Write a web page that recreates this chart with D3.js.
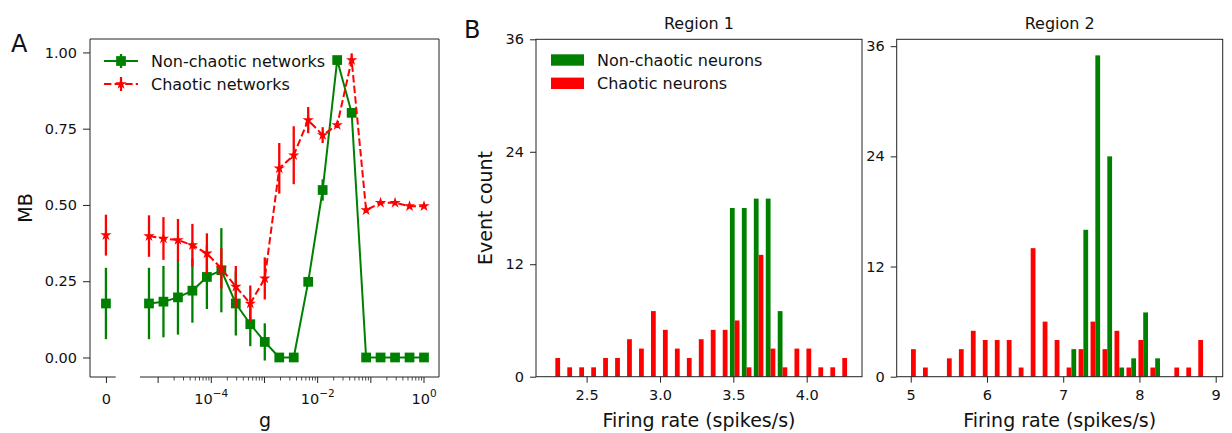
<!DOCTYPE html>
<html>
<head>
<meta charset="utf-8">
<script src="https://cdn.jsdelivr.net/npm/d3@7"></script>
<style>
body {margin:0; background:#fff}
text {font-family:"DejaVu Sans", sans-serif}
</style>
</head>
<body>
<script>
// ---- panel A data (g = 0 is the first entry, drawn on its own little axis)
var gValues = [0, 6.73e-6, 1.259e-5, 2.36e-5, 4.41e-5, 8.26e-5, 1.545e-4, 2.89e-4, 5.41e-4,
               1.013e-3, 1.897e-3, 3.55e-3, 6.64e-3, 1.242e-2, 2.33e-2, 4.36e-2, 8.15e-2,
               0.1525, 0.2855, 0.5345, 1]
var mbNonChaotic = [0.177, 0.177, 0.183, 0.197, 0.219, 0.264, 0.286, 0.177, 0.109, 0.051, 0, 0,
                    0.248, 0.549, 0.975, 0.802, 0, 0, 0, 0, 0]
var errNonChaotic = [0.117, 0.117, 0.117, 0.122, 0.105, 0.105, 0.138, 0.105, 0.072, 0.061, 0, 0,
                     0.015, 0.035, 0.01, 0.01, 0, 0, 0, 0, 0]
var mbChaotic = [0.401, 0.398, 0.390, 0.385, 0.368, 0.341, 0.292, 0.232, 0.177, 0.259, 0.620, 0.663,
                 0.778, 0.729, 0.762, 0.975, 0.483, 0.507, 0.507, 0.496, 0.496]
var errChaotic = [0.067, 0.068, 0.070, 0.069, 0.070, 0.066, 0.066, 0.068, 0.059, 0.069, 0.083, 0.095,
                  0.043, 0.026, 0.01, 0.022, 0.008, 0.006, 0.006, 0.005, 0.005]
var mbTicks = [0, 0.25, 0.5, 0.75, 1]

// ---- panel B data (histograms, 25 bins each)
var region1BinStart = 2.246, region1BinWidth = 0.0815
var region1NonChaotic = [0,0,0,0,0,0,0,0,0,0,0,0,0,0,0,18,18,19,19,7,0,0,0,0,0]
var region1Chaotic = [2,1,1,1,2,2,4,3,7,5,3,2,4,5,5,6,1,13,3,1,3,3,1,1,2]
var region2BinStart = 4.988, region2BinWidth = 0.157
var region2NonChaotic = [0,0,0,0,0,0,0,0,0,0,0,0,0,3,16,35,24,1,2,7,2,0,0,0,0]
var region2Chaotic = [3,1,0,2,3,5,4,4,4,1,14,6,4,1,3,6,3,5,1,4,1,0,1,1,4]
var countTicks = [0, 12, 24, 36]
var region1Ticks = [2.5, 3.0, 3.5, 4.0]
var region2Ticks = [5, 6, 7, 8, 9]

var green = "#008000", red = "#ff0000", spine = "#222"
var tickFont = 14.5, labelFont = 19

var svg = d3.select("body").append("svg")
    .attr("width", 1232)
    .attr("height", 433)

function styleAxis(g) {
  g.select(".domain").remove()
  g.attr("font-family", "DejaVu Sans").attr("font-size", tickFont)
  g.selectAll("line").attr("stroke", spine)
  g.selectAll("text").attr("fill", "#111")
}

// ================= panel A =================
var A = {left: 90, right: 439, top: 39, bottom: 377, zeroEnd: 115.7, logStart: 140}
var yA = d3.scaleLinear().domain([-0.064, 1.044]).range([A.bottom, A.top])
var xA0 = d3.scaleLinear().domain([-0.62, 0.38]).range([A.left, A.zeroEnd])
var xA = d3.scaleLog().domain([Math.pow(10, -5.341), Math.pow(10, 0.282)]).range([A.logStart, A.right])

var gA = svg.append("g").attr("id", "panelA")

gA.append("g")
  .attr("transform", "translate(" + A.left + ",0)")
  .call(d3.axisLeft(yA).tickValues(mbTicks).tickFormat(d3.format(".2f")).tickSize(7).tickPadding(6))
  .call(styleAxis)

gA.append("g")
  .attr("transform", "translate(0," + A.bottom + ")")
  .call(d3.axisBottom(xA0).tickValues([0]).tickFormat(function() { return "0" }).tickSize(6).tickPadding(10.5))
  .call(styleAxis)

// log axis ticks: majors each decade, minors at 2..9 (none left of 1e-5, as in the original)
var logTicks = xA.ticks().filter(function(d) { return d >= 1e-5 * 0.999 })
var gLog = gA.append("g").attr("transform", "translate(0," + A.bottom + ")")
gLog.selectAll("line")
  .data(logTicks)
  .enter()
  .append("line")
  .attr("x1", function(d) { return xA(d) })
  .attr("x2", function(d) { return xA(d) })
  .attr("y1", 0)
  .attr("y2", function(d) { return isMajor(d) ? 6 : 3.5 })
  .attr("stroke", spine)
  .attr("stroke-width", function(d) { return isMajor(d) ? 1 : 0.8 })

function isMajor(d) {
  var e = Math.log10(d)
  return Math.abs(e - Math.round(e)) < 1e-6
}
var labelled = logTicks.filter(function(d) { return isMajor(d) && Math.round(Math.log10(d)) % 2 === 0 })
var logLabels = gLog.selectAll("text")
  .data(labelled)
  .enter()
  .append("text")
  .attr("x", function(d) { return xA(d) })
  .attr("y", 27)
  .attr("text-anchor", "middle")
  .attr("font-size", tickFont)
  .attr("fill", "#111")
logLabels.append("tspan").text("10")
logLabels.append("tspan")
  .attr("dy", -7)
  .attr("font-size", 10.5)
  .text(function(d) { var e = Math.round(Math.log10(d)); return e < 0 ? "\u2212" + (-e) : "" + e })

// spines
gA.append("path")
  .attr("d", "M" + A.left + "," + A.bottom + "V" + A.top + "H" + A.right + "V" + A.bottom)
  .attr("fill", "none").attr("stroke", spine).attr("stroke-width", 1)
gA.append("line").attr("x1", A.left).attr("x2", A.zeroEnd).attr("y1", A.bottom).attr("y2", A.bottom)
  .attr("stroke", spine)
gA.append("line").attr("x1", A.logStart).attr("x2", A.right).attr("y1", A.bottom).attr("y2", A.bottom)
  .attr("stroke", spine)

function seriesData(mb, err) {
  return gValues.map(function(g, i) { return {g: g, mb: mb[i], err: err[i]} })
}
function xPos(d) { return d.g === 0 ? xA0(0) : xA(d.g) }

var series = [
  {name: "Non-chaotic networks", color: green, data: seriesData(mbNonChaotic, errNonChaotic), dash: null, marker: d3.symbolSquare, size: 95},
  {name: "Chaotic networks", color: red, data: seriesData(mbChaotic, errChaotic), dash: "7.4,3.2", marker: d3.symbolStar, size: 40}
]

var line = d3.line()
  .x(xPos)
  .y(function(d) { return yA(d.mb) })

series.forEach(function(s) {
  var gs = gA.append("g")
  gs.selectAll("line")
    .data(s.data.filter(function(d) { return d.err > 0 }))
    .enter()
    .append("line")
    .attr("x1", xPos).attr("x2", xPos)
    .attr("y1", function(d) { return yA(d.mb - d.err) })
    .attr("y2", function(d) { return yA(d.mb + d.err) })
    .attr("stroke", s.color)
    .attr("stroke-width", 2.3)
  gs.append("path")
    .attr("d", line(s.data.filter(function(d) { return d.g > 0 })))
    .attr("fill", "none")
    .attr("stroke", s.color)
    .attr("stroke-width", 2)
    .attr("stroke-dasharray", s.dash)
  gs.selectAll("path.mk")
    .data(s.data)
    .enter()
    .append("path")
    .attr("class", "mk")
    .attr("transform", function(d) { return "translate(" + xPos(d) + "," + yA(d.mb) + ")" })
    .attr("d", d3.symbol().type(s.marker).size(s.size))
    .attr("fill", s.color)
})

// legend A
var legA = gA.append("g").attr("id", "legendA")
series.forEach(function(s, i) {
  var y = 61 + i * 23
  legA.append("line").attr("x1", 104).attr("x2", 138).attr("y1", y).attr("y2", y)
    .attr("stroke", s.color).attr("stroke-width", 2).attr("stroke-dasharray", s.dash)
  legA.append("line").attr("x1", 121).attr("x2", 121).attr("y1", y - 7).attr("y2", y + 7)
    .attr("stroke", s.color).attr("stroke-width", 2.3)
  legA.append("path").attr("transform", "translate(121," + y + ")")
    .attr("d", d3.symbol().type(s.marker).size(s.size)).attr("fill", s.color)
  legA.append("text").attr("x", 151).attr("y", y).attr("dy", "0.36em")
    .attr("font-size", 16).attr("fill", "#111").text(s.name)
})

gA.append("text")
  .attr("transform", "translate(31.7," + ((A.top + A.bottom) / 2) + ") rotate(-90)")
  .attr("text-anchor", "middle").attr("font-size", labelFont).attr("fill", "#111")
  .text("MB")
gA.append("text")
  .attr("x", 265).attr("y", 427).attr("text-anchor", "middle")
  .attr("font-size", labelFont).attr("fill", "#111")
  .text("g")
gA.append("text").attr("x", 11).attr("y", 52).attr("font-size", 24).attr("fill", "#111").text("A")

// ================= panel B =================
function drawHist(cfg) {
  var g = svg.append("g")
  var x = d3.scaleLinear().domain(cfg.xDomain).range([cfg.left, cfg.right])
  var y = d3.scaleLinear().domain(cfg.yDomain).range([cfg.bottom, cfg.top])

  g.append("g")
    .attr("transform", "translate(" + cfg.left + ",0)")
    .call(d3.axisLeft(y).tickValues(countTicks).tickSize(6).tickPadding(6))
    .call(styleAxis)
  g.append("g")
    .attr("transform", "translate(0," + cfg.bottom + ")")
    .call(d3.axisBottom(x).tickValues(cfg.xTicks).tickFormat(cfg.xFormat).tickSize(6).tickPadding(7.5))
    .call(styleAxis)

  var sets = [
    {counts: cfg.nonChaotic, color: green, offset: cfg.greenFirst ? 0.1 : 0.5},
    {counts: cfg.chaotic, color: red, offset: cfg.greenFirst ? 0.5 : 0.1}
  ]
  sets.forEach(function(s) {
    var bins = s.counts.map(function(c, i) {
      return {x0: cfg.binStart + (i + s.offset) * cfg.binWidth, x1: cfg.binStart + (i + s.offset + 0.4) * cfg.binWidth, n: c}
    }).filter(function(b) { return b.n > 0 })
    g.append("g").selectAll("rect")
      .data(bins)
      .enter()
      .append("rect")
      .attr("x", function(d) { return x(d.x0) })
      .attr("width", function(d) { return x(d.x1) - x(d.x0) })
      .attr("y", function(d) { return y(d.n) })
      .attr("height", function(d) { return y(0) - y(d.n) })
      .attr("fill", s.color)
  })

  g.append("rect")
    .attr("x", cfg.left).attr("y", cfg.top)
    .attr("width", cfg.right - cfg.left).attr("height", cfg.bottom - cfg.top)
    .attr("fill", "none").attr("stroke", spine).attr("stroke-width", 1)

  g.append("text")
    .attr("x", (cfg.left + cfg.right) / 2).attr("y", 29.3)
    .attr("text-anchor", "middle").attr("font-size", 16).attr("fill", "#111")
    .text(cfg.title)
  g.append("text")
    .attr("x", (cfg.left + cfg.right) / 2).attr("y", 427)
    .attr("text-anchor", "middle").attr("font-size", labelFont).attr("fill", "#111")
    .text("Firing rate (spikes/s)")
  return g
}

var r1 = drawHist({left: 536, right: 862, top: 39.3, bottom: 376.7,
  xDomain: [2.155, 4.377], yDomain: [0, 36], xTicks: region1Ticks, xFormat: d3.format(".1f"),
  binStart: region1BinStart, binWidth: region1BinWidth,
  nonChaotic: region1NonChaotic, chaotic: region1Chaotic, greenFirst: true, title: "Region 1"})

drawHist({left: 896.7, right: 1222.7, top: 39.3, bottom: 376.7,
  xDomain: [4.816, 9.092], yDomain: [0, 36.75], xTicks: region2Ticks, xFormat: d3.format("d"),
  binStart: region2BinStart, binWidth: region2BinWidth,
  nonChaotic: region2NonChaotic, chaotic: region2Chaotic, greenFirst: false, title: "Region 2"})

// legend B
var legB = r1.append("g").attr("id", "legendB")
var legItems = [{name: "Non-chaotic neurons", color: green}, {name: "Chaotic neurons", color: red}]
legItems.forEach(function(d, i) {
  var y = 60 + i * 23.3
  legB.append("rect").attr("x", 551).attr("y", y - 5.7).attr("width", 33).attr("height", 11.4).attr("fill", d.color)
  legB.append("text").attr("x", 597).attr("y", y).attr("dy", "0.36em")
    .attr("font-size", 16).attr("fill", "#111").text(d.name)
})

svg.append("text")
  .attr("transform", "translate(491.7,208) rotate(-90)")
  .attr("text-anchor", "middle").attr("font-size", labelFont).attr("fill", "#111")
  .text("Event count")
svg.append("text").attr("x", 464).attr("y", 38).attr("font-size", 24).attr("fill", "#111").text("B")
</script>
</body>
</html>
